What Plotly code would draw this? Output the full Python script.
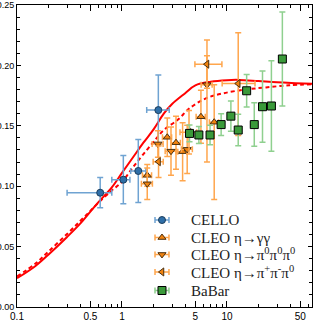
import plotly.graph_objects as go

# ---- data ----
cello_q2 = [0.62, 1.03, 1.43, 2.22]
cello_val = [0.0946, 0.1054, 0.1126, 0.163]
cello_err = [0.0125, 0.020, 0.026, 0.029]
cello_xm = [0.32, 0.23, 0.22, 0.50]
cello_xp = [0.18, 0.16, 0.26, 0.60]

gg_q2 = [1.74, 2.70, 3.27, 3.78, 5.65, 7.56]
gg_val = [0.109, 0.1405, 0.136, 0.1286, 0.1575, 0.153]
gg_ep = [0.009, 0.016, 0.022, 0.024, 0.022, 0.031]
gg_em = [0.009, 0.016, 0.022, 0.024, 0.022, 0.064]

p3_q2 = [1.74, 2.20, 2.93, 4.18, 6.45]
p3_val = [0.102, 0.135, 0.129, 0.1305, 0.184]
p3_ep = [0.013, 0.011, 0.020, 0.020, 0.024]
p3_em = [0.013, 0.011, 0.020, 0.020, 0.064]

pc_q2 = [2.23, 4.35, 6.45, 12.8]
pc_val = [0.1203, 0.1446, 0.201, 0.185]
pc_ep = [0.013, 0.018, 0.020, 0.042]
pc_em = [0.013, 0.018, 0.020, 0.043]
pc_xm = [0.25, 0.78, 1.5, 3.8]
pc_xp = [0.24, 0.80, 2.5, 5.7]

bb_q2 = [4.4, 5.4, 6.9, 8.8, 10.9, 12.8, 15.4, 18.2, 21.8, 26.5, 33.7]
bb_val = [0.1437, 0.1424, 0.1424, 0.151, 0.158, 0.1465, 0.179, 0.151, 0.1658, 0.1664, 0.2053]
bb_err = [0.007, 0.007, 0.008, 0.009, 0.0125, 0.013, 0.0135, 0.018, 0.0295, 0.0375, 0.039]

solid_q2 = [0.1, 0.15, 0.2, 0.3, 0.4, 0.5, 0.6, 0.8, 1.0, 1.3, 1.6, 2.0, 2.5, 3.0, 4.0, 5.0, 7.0, 10, 13, 20, 30, 45, 65]
solid_val = [0.0238, 0.034, 0.0435, 0.058, 0.069, 0.079, 0.087, 0.099, 0.111, 0.125, 0.136, 0.147, 0.160, 0.168, 0.177, 0.1835, 0.1865, 0.1878, 0.188, 0.187, 0.186, 0.1853, 0.1847]
dash_q2 = [0.1, 0.15, 0.2, 0.3, 0.4, 0.5, 0.6, 0.8, 1.0, 1.25, 1.6, 2.1, 2.5, 3.4, 4.4, 6.3, 9.1, 15, 23.5, 39, 65]
dash_val = [0.0252, 0.036, 0.046, 0.0605, 0.0712, 0.0795, 0.0865, 0.0965, 0.1035, 0.1148, 0.1265, 0.139, 0.1465, 0.155, 0.1645, 0.1727, 0.1768, 0.180, 0.1818, 0.1835, 0.1844]

x_tickvals = [0.1, 0.5, 1, 5, 10, 50]
x_ticktext = ["0.1", "0.5", "1", "5", "10", "50"]
y_tickvals = [0.0, 0.05, 0.10, 0.15, 0.20, 0.25]
y_ticktext = ["0.00", "0.05", "0.10", "0.15", "0.20", "0.25"]

legend_labels = ["CELLO", "CLEO η→γγ",
                 "CLEO η→π<sup>0</sup>π<sup>0</sup>π<sup>0</sup>",
                 "CLEO η→π<sup>+</sup>π<sup>-</sup>π<sup>0</sup>",
                 "BaBar"]

fig = go.Figure()

fig.add_trace(go.Scatter(x=solid_q2, y=solid_val, mode="lines",
                         line=dict(color="#ff0000", width=2, shape="spline"), showlegend=False))
fig.add_trace(go.Scatter(x=dash_q2, y=dash_val, mode="lines",
                         line=dict(color="#ff0000", width=2, dash="4px,3px", shape="spline"), showlegend=False))

styles = []

def add_series(name, x, y, ep, em, xp, xm, color, ecolor, symbol, size, lcolor):
    fig.add_trace(go.Scatter(
        x=x, y=y, mode="markers", name=name, showlegend=False,
        marker=dict(symbol=symbol, size=size, color=color, line=dict(color=lcolor, width=1)),
        error_y=dict(type="data", array=ep, arrayminus=em, color=ecolor, thickness=1.5, width=3),
        error_x=dict(type="data", array=xp, arrayminus=xm, color=ecolor, thickness=1.5, width=3),
    ))
    styles.append((color, ecolor, symbol, size, lcolor))

add_series(legend_labels[0], cello_q2, cello_val, cello_err, cello_err, cello_xp, cello_xm,
           "#2f6fa8", "#6fa3d2", "circle", 7, "#1c3d5c")
add_series(legend_labels[1], gg_q2, gg_val, gg_ep, gg_em, [q * 0.1 for q in gg_q2], [q * 0.1 for q in gg_q2],
           "#f0820f", "#ffa64d", "triangle-up", 7, "#4a3010")
add_series(legend_labels[2], p3_q2, p3_val, p3_ep, p3_em,
           [q * 0.12 for q in p3_q2], [q * 0.12 for q in p3_q2],
           "#f0820f", "#ffa64d", "triangle-down", 7, "#4a3010")
add_series(legend_labels[3], pc_q2, pc_val, pc_ep, pc_em, pc_xp, pc_xm,
           "#f0820f", "#ffa64d", "triangle-left", 7, "#4a3010")
add_series(legend_labels[4], bb_q2, bb_val, bb_err, bb_err, [q * 0.07 for q in bb_q2], [q * 0.07 for q in bb_q2],
           "#3a9a3a", "#8fd08f", "square", 8, "#000000")

# ---- manual legend (symbols with horizontal error bars) on an overlay axis ----
leg_x = 0.4915
leg_rows = [0.288, 0.230, 0.174, 0.116, 0.0546]
for (color, ecolor, symbol, size, lcolor), ly, label in zip(styles, leg_rows, legend_labels):
    fig.add_trace(go.Scatter(
        x=[leg_x], y=[ly], xaxis="x2", yaxis="y2", mode="markers", showlegend=False, hoverinfo="skip",
        marker=dict(symbol=symbol, size=size, color=color, line=dict(color=lcolor, width=1)),
        error_x=dict(type="constant", value=0.0237, color=ecolor, thickness=1.5, width=3),
    ))
    fig.add_annotation(x=0.582, y=ly, xref="x2", yref="y2", text=label, showarrow=False,
                       xanchor="left", yanchor="middle",
                       font=dict(family="Liberation Serif, Times New Roman, serif", size=15, color="#222"))

axis_common = dict(showline=True, linecolor="black", linewidth=1, mirror="allticks",
                   ticks="inside", tickcolor="black", showgrid=False, zeroline=False, automargin=False)

fig.update_xaxes(type="log", range=[-1, 1.81], tickmode="array", tickvals=x_tickvals, ticktext=x_ticktext,
                 ticklen=6, tickwidth=1,
                 tickfont=dict(family="Liberation Sans, Arial, sans-serif", size=10, color="black"),
                 minor=dict(tickmode="array",
                            tickvals=[0.2, 0.3, 0.4, 0.6, 0.7, 0.8, 0.9, 2, 3, 4, 6, 7, 8, 9, 20, 30, 40, 60],
                            ticklen=3, tickcolor="black", ticks="inside"),
                 **axis_common)
fig.update_yaxes(range=[0, 0.25], tickmode="array", tickvals=y_tickvals, ticktext=y_ticktext,
                 ticklen=4, tickwidth=1,
                 tickfont=dict(family="Liberation Sans, Arial, sans-serif", size=9, color="black"),
                 minor=dict(tickmode="linear", tick0=0, dtick=0.01, ticklen=3, tickcolor="black", ticks="inside"),
                 **axis_common)

fig.update_layout(
    width=316, height=321,
    margin=dict(l=17, r=4, t=5, b=14),
    plot_bgcolor="white", paper_bgcolor="white",
    showlegend=False,
    xaxis2=dict(overlaying="x", range=[0, 1], visible=False, fixedrange=True),
    yaxis2=dict(overlaying="y", range=[0, 1], visible=False, fixedrange=True),
)

fig.write_html("out.html", config={"displayModeBar": False},
               post_script="document.body.style.margin='0';document.body.style.overflow='hidden';")
